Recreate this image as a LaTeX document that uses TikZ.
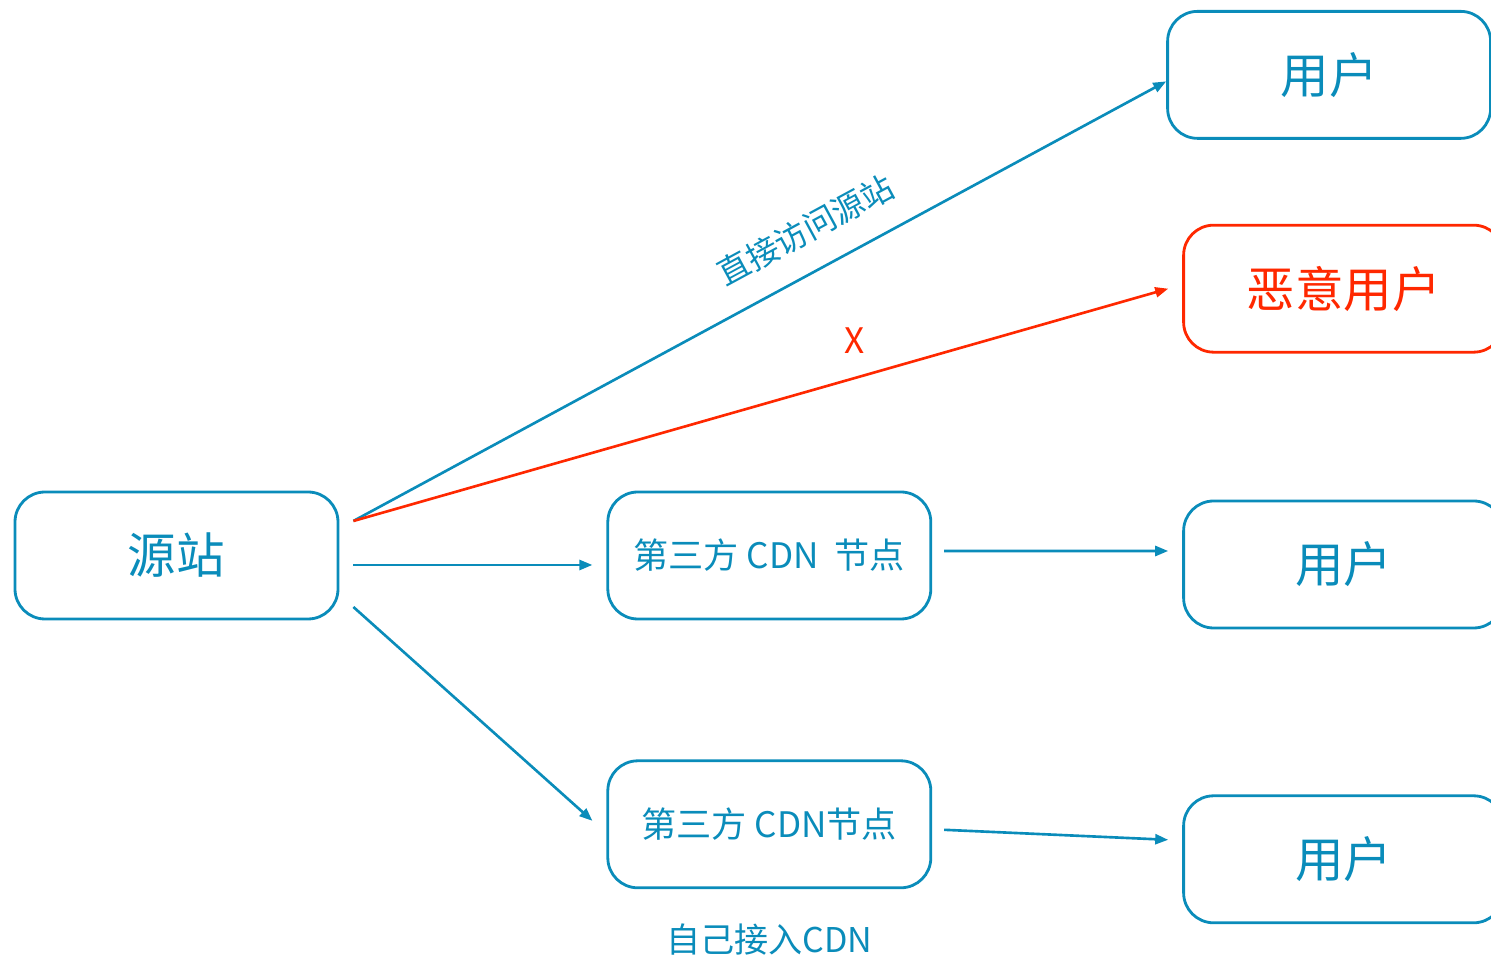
\documentclass[tikz,border=0pt]{standalone}
\usepackage{fontspec}
\setmainfont{Noto Sans CJK SC}
\usetikzlibrary{positioning,arrows.meta}
\definecolor{cdnblue}{RGB}{10,140,186}
\definecolor{badred}{RGB}{255,40,0}
\tikzset{
    box/.style={rectangle, rounded corners=0.3cm, draw=cdnblue, line width=0.8pt, minimum width=3.23cm, minimum height=1.27cm, text=cdnblue, font=\fontsize{13.8}{16}\selectfont},
    small/.style={font=\fontsize{10}{12}\selectfont},
    tiny/.style={font=\fontsize{9.2}{11}\selectfont},
    badbox/.style={box, draw=badred, text=badred},
    link/.style={-{Triangle[length=1.3mm,width=1.0mm]}, color=cdnblue, line width=0.75pt},
    badlink/.style={link, color=badred},
}
\begin{document}
\begin{tikzpicture}
    \useasboundingbox (0,0) rectangle (14.91,-9.56);
    \clip (0,0) rectangle (14.91,-9.56);
        \node[box] (src) at (1.765,-5.555) {源站};
        \node[box, small] (cdnA) [right=2.67cm of src] {第三方 CDN\ \ 节点};
        \node[box, small] (cdnB) [below=1.39cm of cdnA] {第三方 CDN节点};
        \node[small, text=cdnblue, font=\fontsize{9.7}{11}\selectfont] (self) [below=0.22cm of cdnB] {自己接入CDN};
        \node[box, minimum width=3.2cm] (usrB) [right=2.5cm of cdnA, yshift=-0.9mm] {用户};
        \node[box, minimum width=3.2cm] (usrC) [right=2.5cm of cdnB, yshift=-3.5mm] {用户};
        \node[badbox, minimum width=3.2cm] (bad) [above=1.46cm of usrB] {恶意用户};
        \node[box] (usrA) [above=0.84cm of bad, xshift=-1.45mm] {用户};
   
        \draw[link] ([xshift=1.4mm, yshift=3.45mm]src.east) -- ([yshift=-0.65mm]usrA.west)
            node[tiny, sloped, above=1.3mm, pos=0.58, text=cdnblue] (direct) {直接访问源站};
        \draw[badlink] ([xshift=1.4mm, yshift=3.45mm]src.east) -- ([xshift=-1.4mm]bad.west)
            node[small, above=1.2mm, pos=0.615, text=badred] (deny) {X};
        \draw[link] ([xshift=1.4mm, yshift=-0.95mm]src.east) -- ([xshift=-1.4mm, yshift=-0.95mm]cdnA.west);
        \draw[link] ([xshift=1.4mm, yshift=-5.15mm]src.east) -- ([xshift=-1.4mm, yshift=0.35mm]cdnB.west);
        \draw[link] ([xshift=1.2mm, yshift=0.45mm]cdnA.east) -- ([xshift=-1.4mm, yshift=1.35mm]usrB.west);
        \draw[link] ([xshift=1.2mm, yshift=-0.55mm]cdnB.east) -- ([xshift=-1.4mm, yshift=1.95mm]usrC.west);
    \end{tikzpicture}
\end{document}
